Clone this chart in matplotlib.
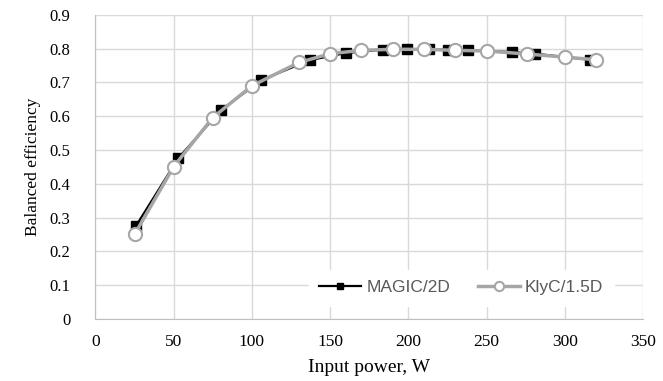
import matplotlib
matplotlib.use("Agg")
import matplotlib.pyplot as plt

magic_x = [26, 53, 80, 106, 137, 160, 184, 199, 213, 225, 238, 266, 281, 316]
magic_y = [0.276, 0.476, 0.617, 0.707, 0.766, 0.787, 0.797, 0.798, 0.798, 0.797, 0.795, 0.790, 0.785, 0.767]

klyc_x = [25, 50, 75, 100, 130, 150, 170, 190, 210, 230, 250, 276, 300, 320]
klyc_y = [0.250, 0.451, 0.596, 0.690, 0.759, 0.785, 0.795, 0.798, 0.798, 0.795, 0.793, 0.784, 0.775, 0.767]

xticks = [0, 50, 100, 150, 200, 250, 300, 350]
yticks = [0, 0.1, 0.2, 0.3, 0.4, 0.5, 0.6, 0.7, 0.8, 0.9]
ytick_labels = ["0", "0.1", "0.2", "0.3", "0.4", "0.5", "0.6", "0.7", "0.8", "0.9"]

fig = plt.figure(figsize=(6.63, 3.81), dpi=100)
ax = fig.add_axes([0.144, 0.163, 0.826, 0.798])

ax.plot(magic_x, magic_y, color="black", lw=1.6, marker="s", ms=7,
        mfc="black", mec="black", label="MAGIC/2D", zorder=3)
ax.plot(klyc_x, klyc_y, color="#A6A6A6", lw=2.5, marker="o", ms=9.5,
        mfc="white", mec="#A6A6A6", mew=1.5, label="KlyC/1.5D", zorder=4)

ax.set_xlim(0, 350)
ax.set_ylim(0, 0.9)
ax.set_xticks(xticks)
ax.set_yticks(yticks)
ax.set_yticklabels(ytick_labels)
ax.grid(True, color="#D9D9D9", lw=1.0)
ax.set_axisbelow(True)
ax.tick_params(length=0)
ax.tick_params(axis="y", pad=18, labelsize=12)
ax.tick_params(axis="x", pad=11, labelsize=12.5)
for lab in ax.get_xticklabels() + ax.get_yticklabels():
    lab.set_fontfamily("Liberation Serif")
for s in ["top", "right"]:
    ax.spines[s].set_visible(False)
ax.spines["left"].set_color("#BFBFBF")
ax.spines["bottom"].set_color("#BFBFBF")

ax.set_xlabel("Input power, W", fontsize=14, family="Liberation Serif", labelpad=6)
ax.set_ylabel("Balanced efficiency", fontsize=12.5, family="Liberation Serif", labelpad=6)

leg = ax.legend(loc="lower right", bbox_to_anchor=(0.962, 0.015), ncol=2, frameon=True,
                prop={"family": "Liberation Sans", "size": 12.5}, handlelength=2.4,
                handletextpad=0.3, columnspacing=1.6, borderpad=0.6, markerscale=0.7)
leg.get_frame().set_edgecolor("white")
leg.get_frame().set_facecolor("white")
leg.get_frame().set_alpha(1)
leg.get_frame().set_boxstyle("square", pad=0)
for t in leg.get_texts():
    t.set_color("#595959")

fig.savefig("out.png", dpi=100)
